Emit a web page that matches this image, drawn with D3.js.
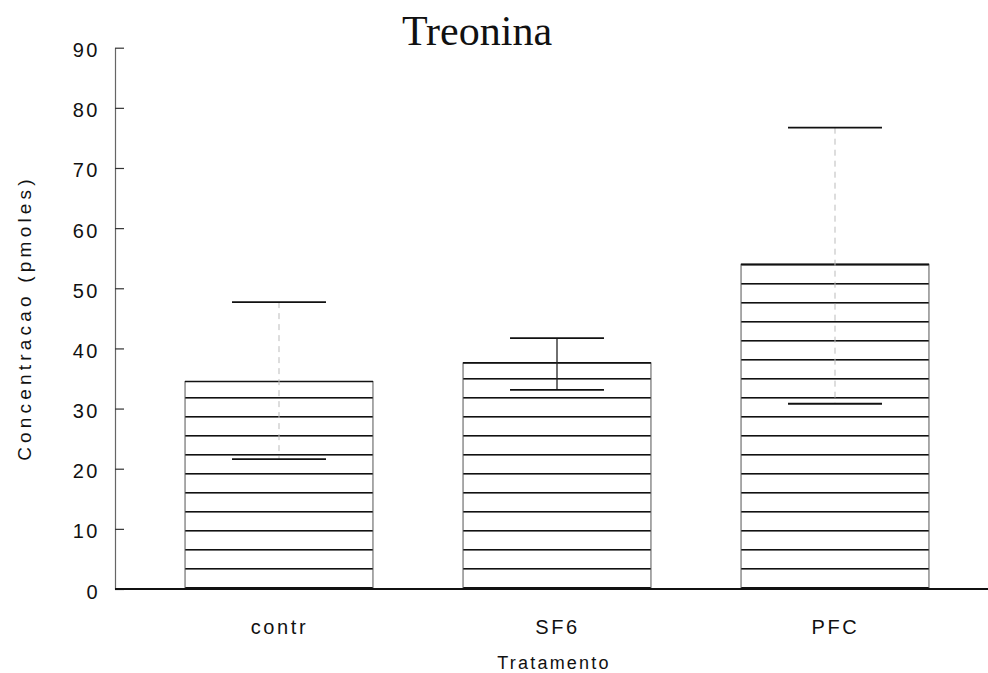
<!DOCTYPE html>
<html>
<head>
<meta charset="utf-8">
<script src="https://cdn.jsdelivr.net/npm/d3@7"></script>
<style>
  body { margin: 0; background: #fff; }
  text { font-family: "Liberation Sans", Arial, sans-serif; fill: #111; }
</style>
</head>
<body>
<div id="main"></div>
<script>
// data
const categories = ['contr', 'SF6', 'PFC'];
const means = [34.5, 37.6, 54.0];
const upper = [47.7, 41.7, 76.7];
const lower = [21.6, 33.1, 30.8];
const yTicks = [0, 10, 20, 30, 40, 50, 60, 70, 80, 90];

const width = 988, height = 673;
const x0 = 115, yBase = 589, yTop = 47.7;

let svg = d3.select('#main').append('svg')
  .attr('width', width).attr('height', height);

let y = d3.scaleLinear().domain([0, 90]).range([yBase, yTop]);
let x = d3.scalePoint().domain(categories).range([140, 974]).padding(0.5);
let barW = x.step() * 0.676;
let capW = barW / 2;

// horizontal hatching, anchored on the baseline
let hatch = svg.append('defs').append('pattern')
  .attr('id', 'hatch')
  .attr('patternUnits', 'userSpaceOnUse')
  .attr('x', 0).attr('y', y(0) - 2)
  .attr('width', 10).attr('height', 19);
hatch.append('rect').attr('width', 10).attr('height', 19).attr('fill', '#fff');
hatch.append('line')
  .attr('x1', 0).attr('x2', 10).attr('y1', 0.8).attr('y2', 0.8)
  .attr('stroke', '#111').attr('stroke-width', 1.6);

let data = categories.map((c, i) => ({cat: c, mean: means[i], hi: upper[i], lo: lower[i]}));

// y axis
let yAxis = svg.append('g')
  .attr('transform', `translate(${x0},0)`)
  .call(d3.axisLeft(y).tickValues(yTicks).tickSizeInner(-9).tickSizeOuter(0).tickPadding(15));
yAxis.select('.domain').attr('stroke', '#666').attr('stroke-width', 1.2);
yAxis.selectAll('.tick line').attr('stroke', '#333').attr('stroke-width', 1.2);
yAxis.selectAll('.tick text')
  .style('font-size', '20px').style('letter-spacing', '2.5px')
  .attr('dy', '0.45em');

// bars
let bars = svg.append('g');
bars.selectAll('rect').data(data).join('rect')
  .attr('x', d => x(d.cat) - barW / 2)
  .attr('y', d => y(d.mean))
  .attr('width', barW)
  .attr('height', d => y(0) - y(d.mean))
  .attr('fill', 'url(#hatch)')
  .attr('stroke', '#555').attr('stroke-width', 1);
bars.selectAll('line.top').data(data).join('line')
  .attr('class', 'top')
  .attr('x1', d => x(d.cat) - barW / 2).attr('x2', d => x(d.cat) + barW / 2)
  .attr('y1', d => y(d.mean)).attr('y2', d => y(d.mean))
  .attr('stroke', '#111').attr('stroke-width', 1.6);

// error bars
let err = svg.append('g');
err.selectAll('line.whisker').data(data).join('line')
  .attr('class', 'whisker')
  .attr('x1', d => x(d.cat)).attr('x2', d => x(d.cat))
  .attr('y1', d => y(d.hi)).attr('y2', d => y(d.lo))
  .attr('stroke', d => d.cat === 'SF6' ? '#222' : '#bbb')
  .attr('stroke-width', d => d.cat === 'SF6' ? 1.3 : 1)
  .attr('stroke-dasharray', d => d.cat === 'SF6' ? null : '6,5');
['hi', 'lo'].forEach(k => {
  err.selectAll('line.cap-' + k).data(data).join('line')
    .attr('class', 'cap-' + k)
    .attr('x1', d => x(d.cat) - capW / 2).attr('x2', d => x(d.cat) + capW / 2)
    .attr('y1', d => y(d[k])).attr('y2', d => y(d[k]))
    .attr('stroke', '#111').attr('stroke-width', 1.8);
});

// baseline
svg.append('line')
  .attr('x1', x0).attr('x2', width)
  .attr('y1', y(0)).attr('y2', y(0))
  .attr('stroke', '#111').attr('stroke-width', 2);

// x labels
let xAxis = svg.append('g')
  .attr('transform', `translate(0,${y(0)})`)
  .call(d3.axisBottom(x).tickSize(0).tickPadding(31));
xAxis.select('.domain').remove();
xAxis.selectAll('.tick text')
  .style('font-size', '20px').style('letter-spacing', '2.6px');

// titles
svg.append('text')
  .attr('x', 477).attr('y', 45)
  .attr('text-anchor', 'middle')
  .style('font-family', '"Liberation Serif", "Times New Roman", serif')
  .style('font-size', '42px')
  .text('Treonina');

svg.append('text')
  .attr('x', 554).attr('y', 669)
  .attr('text-anchor', 'middle')
  .style('font-size', '18px').style('letter-spacing', '2.2px')
  .text('Tratamento');

svg.append('text')
  .attr('transform', 'translate(31,318) rotate(-90)')
  .attr('text-anchor', 'middle')
  .style('font-size', '19px').style('letter-spacing', '4.2px')
  .text('Concentracao  (pmoles)');
</script>
</body>
</html>
